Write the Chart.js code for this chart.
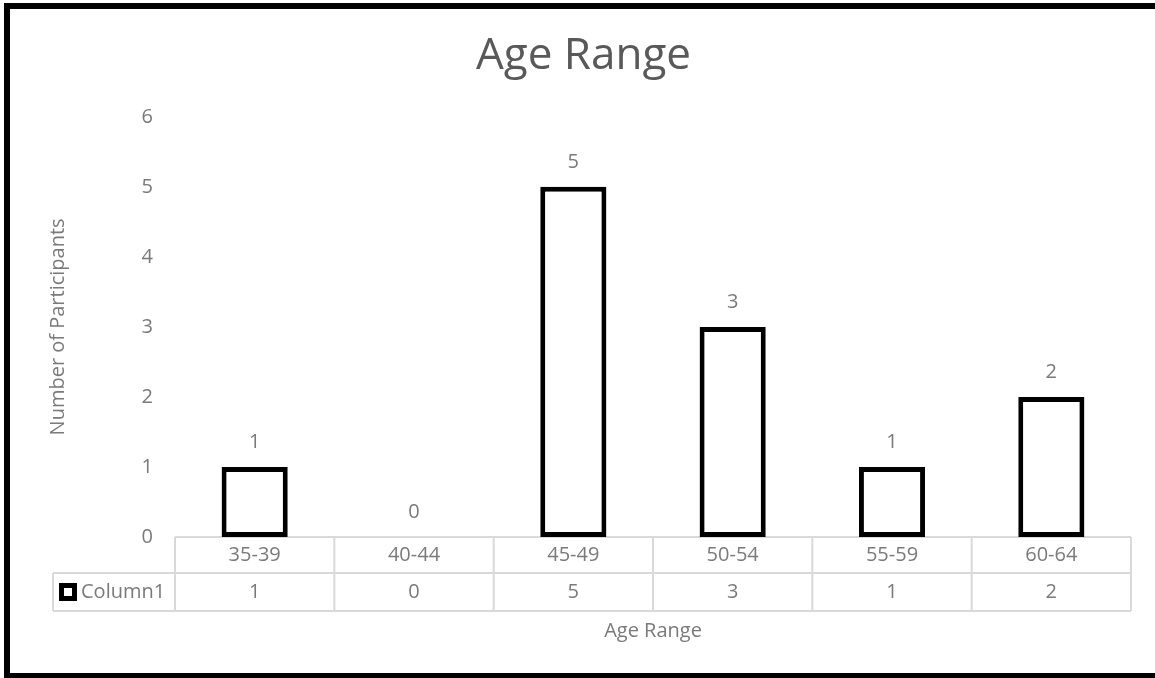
<!DOCTYPE html>
<html>
<head>
<meta charset="utf-8">
<script src="https://cdn.jsdelivr.net/npm/chart.js@4.4.0/dist/chart.umd.min.js"></script>
<style>
    body { margin: 0; background: #fff; }
    #moldura {
        position: absolute; left: 4px; top: 3px; width: 1200px; height: 664px;
        border: 6px solid #000; border-right: none; pointer-events: none; z-index: 2;
    }
    #grafico { position: absolute; left: 0; top: 0; z-index: 1; }
</style>
</head>
<body>
<div id="moldura"></div>
<canvas id="grafico" width="1155" height="678"></canvas>
<script>
// dados do gráfico
const faixas_etarias = ['35-39', '40-44', '45-49', '50-54', '55-59', '60-64'];
const participantes = [1, 0, 5, 3, 1, 2];
const nome_serie = 'Column1';
const eixo_y_min = 0;
const eixo_y_max = 6;
const eixo_y_passo = 1;

const cor_texto = '#7a7a7a';
const cor_titulo = '#595959';
const cor_tabela = '#d9d9d9';

Chart.defaults.font.family = "'Open Sans', sans-serif";
Chart.defaults.font.size = 20;
Chart.defaults.color = cor_texto;

// rótulos em cima das barras
const plugin_rotulos = {
    id: 'rotulos',
    afterDatasetsDraw(chart) {
        const ctx = chart.ctx;
        const meta = chart.getDatasetMeta(0);
        ctx.save();
        ctx.font = "20px 'Open Sans', sans-serif";
        ctx.fillStyle = cor_texto;
        ctx.textAlign = 'center';
        ctx.textBaseline = 'middle';
        meta.data.forEach(function (barra, i) {
            ctx.fillText(String(participantes[i]), barra.x, barra.y - 25);
        });
        ctx.restore();
    }
};

// tabela de dados embaixo do gráfico (estilo Excel)
const plugin_tabela = {
    id: 'tabela',
    beforeDatasetsDraw(chart) {
        const ctx = chart.ctx;
        const area = chart.chartArea;
        const x = chart.scales.x;
        const larg = (area.right - area.left) / faixas_etarias.length;
        const topo = area.bottom;
        const linha1 = topo + 36;
        const linha2 = linha1 + 38;
        const esquerda_legenda = 53;

        ctx.save();
        ctx.strokeStyle = cor_tabela;
        ctx.lineWidth = 2;
        ctx.beginPath();
        ctx.moveTo(area.left, topo); ctx.lineTo(area.right, topo);
        ctx.moveTo(esquerda_legenda, linha1); ctx.lineTo(area.right, linha1);
        ctx.moveTo(esquerda_legenda, linha2); ctx.lineTo(area.right, linha2);
        for (let i = 0; i <= faixas_etarias.length; i++) {
            const px = area.left + i * larg;
            ctx.moveTo(px, topo); ctx.lineTo(px, linha2);
        }
        ctx.moveTo(esquerda_legenda, linha1); ctx.lineTo(esquerda_legenda, linha2);
        ctx.stroke();

        // valores da série
        ctx.font = "20px 'Open Sans', sans-serif";
        ctx.fillStyle = cor_texto;
        ctx.textAlign = 'center';
        ctx.textBaseline = 'middle';
        const meio = (linha1 + linha2) / 2;
        for (let i = 0; i < participantes.length; i++) {
            ctx.fillText(String(participantes[i]), x.getPixelForTick(i), meio);
        }

        // chave da legenda
        ctx.fillStyle = '#000';
        ctx.fillRect(59, meio - 9, 18, 18);
        ctx.fillStyle = '#fff';
        ctx.fillRect(64, meio - 4, 8, 8);
        ctx.fillStyle = cor_texto;
        ctx.textAlign = 'left';
        ctx.fillText(nome_serie, 81, meio);
        ctx.restore();
    }
};

const config_barras = {
    type: 'bar',
    data: {
        labels: faixas_etarias,
        datasets: [{
            label: nome_serie,
            data: participantes,
            backgroundColor: '#ffffff',
            borderColor: '#000000',
            borderWidth: 5,
            borderSkipped: false,
            barPercentage: 0.415,
            categoryPercentage: 1
        }]
    },
    options: {
        responsive: false,
        animation: false,
        devicePixelRatio: 1,
        layout: { padding: { left: 36, right: 24, top: 0, bottom: 0 } },
        plugins: {
            legend: { display: false },
            tooltip: { enabled: false },
            title: {
                display: true,
                text: 'Age Range',
                color: cor_titulo,
                font: { size: 44, weight: 'normal' },
                padding: { top: 30, bottom: 34 }
            }
        },
        scales: {
            x: {
                grid: { display: false, drawTicks: false },
                border: { display: false },
                ticks: { padding: 6, color: cor_texto, maxRotation: 0 },
                title: {
                    display: true,
                    text: 'Age Range',
                    color: cor_texto,
                    font: { size: 20 },
                    padding: { top: 0, bottom: 35 }
                },
                afterFit: function (eixo) { eixo.height = 141; }
            },
            y: {
                min: eixo_y_min,
                max: eixo_y_max,
                grid: { display: false, drawTicks: false },
                border: { display: false },
                ticks: { stepSize: eixo_y_passo, padding: 22, color: cor_texto },
                title: {
                    display: true,
                    text: 'Number of Participants',
                    color: cor_texto,
                    font: { size: 20 },
                    padding: { top: 10, bottom: 0 }
                },
                afterFit: function (eixo) { eixo.width = 139; }
            }
        }
    },
    plugins: [plugin_tabela, plugin_rotulos]
};

const grafico_barras = new Chart(document.getElementById('grafico'), config_barras);
</script>
</body>
</html>
